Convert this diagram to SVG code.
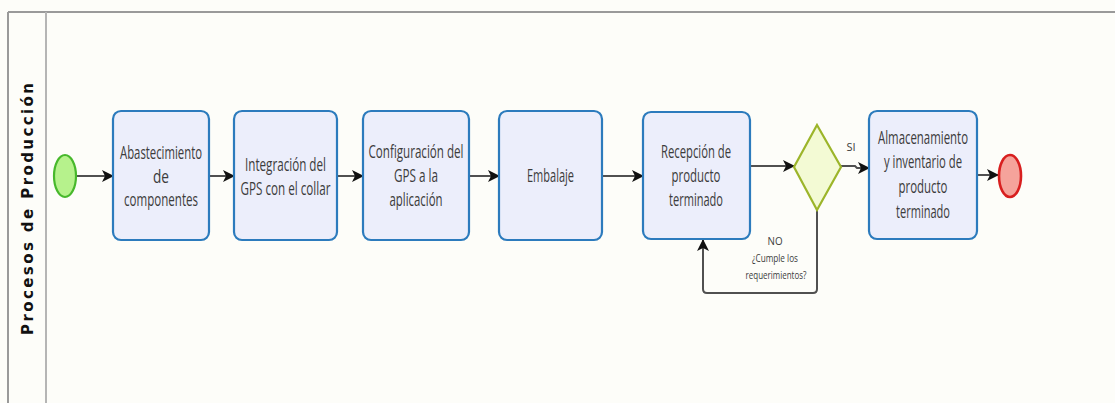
<svg xmlns="http://www.w3.org/2000/svg" width="1115" height="403" viewBox="0 0 1115 403">
<style>
.task{fill:#eceefb;stroke:#2c7bbd;stroke-width:2.2}
.t{font-family:"Open Sans","Noto Sans",sans-serif;font-size:18px;fill:#3c3c3c;text-anchor:middle}
.s{font-family:"Open Sans","Noto Sans",sans-serif;font-size:11px;fill:#3c3c3c;text-anchor:middle}
.flow{fill:none;stroke:#505050;stroke-width:2}
</style>
<defs>
<marker id="arr" viewBox="0 0 12 12" refX="11" refY="6" markerWidth="12" markerHeight="12" markerUnits="userSpaceOnUse" orient="auto">
<path d="M0,0 L12,6 L0,12 L3,6 Z" fill="#111"/>
</marker>
</defs>
<rect x="0" y="0" width="1115" height="403" fill="#fdfdf9"/>
<g id="pool">
<line x1="8" y1="12" x2="1115" y2="12" stroke="#9a9a9a" stroke-width="2"/>
<line x1="8" y1="12" x2="8" y2="403" stroke="#9a9a9a" stroke-width="2"/>
<line x1="46" y1="12" x2="46" y2="403" stroke="#b5b5b5" stroke-width="2"/>
<text transform="translate(33,209) rotate(-90)" font-family="'DejaVu Sans',Verdana,sans-serif" font-weight="bold" font-size="15" fill="#111" text-anchor="middle" textLength="252" lengthAdjust="spacing">Procesos de Producción</text>
</g>
<g id="connectors">
<path class="flow" d="M76,176 L113,176" marker-end="url(#arr)"/>
<path class="flow" d="M209,176 L234,176" marker-end="url(#arr)"/>
<path class="flow" d="M337,176 L363,176" marker-end="url(#arr)"/>
<path class="flow" d="M469,176 L499,176" marker-end="url(#arr)"/>
<path class="flow" d="M602,176 L643,176" marker-end="url(#arr)"/>
<path class="flow" d="M750,166 L794,166" marker-end="url(#arr)"/>
<path class="flow" d="M841,166 L855,166 L857,168 L869,168" marker-end="url(#arr)"/>
<path class="flow" d="M977,175 L998,175" marker-end="url(#arr)"/>
<path class="flow" d="M817,210 L817,289 Q817,293 813,293 L707,293 Q703,293 703,289 L703,240" marker-end="url(#arr)"/>
<text class="s" x="851" y="151">SI</text>
<text class="s" x="775" y="245" textLength="15" lengthAdjust="spacingAndGlyphs">NO</text>
<text class="s" x="775" y="262" textLength="46" lengthAdjust="spacingAndGlyphs">¿Cumple los</text>
<text class="s" x="776" y="279" textLength="61" lengthAdjust="spacingAndGlyphs">requerimientos?</text>
</g>
<g id="start">
<ellipse cx="65" cy="176" rx="11" ry="21" fill="#b6f28c" stroke="#47b82c" stroke-width="2.2"/>
</g>
<g id="task1">
<rect class="task" x="113" y="111" width="96" height="129" rx="8"/>
<text class="t" x="161" y="159" textLength="82" lengthAdjust="spacingAndGlyphs">Abastecimiento</text>
<text class="t" x="161" y="183" textLength="16" lengthAdjust="spacingAndGlyphs">de</text>
<text class="t" x="161" y="206" textLength="74" lengthAdjust="spacingAndGlyphs">componentes</text>
</g>
<g id="task2">
<rect class="task" x="234" y="111" width="103" height="129" rx="8"/>
<text class="t" x="285.5" y="171" textLength="81" lengthAdjust="spacingAndGlyphs">Integración del</text>
<text class="t" x="285.5" y="195" textLength="90" lengthAdjust="spacingAndGlyphs">GPS con el collar</text>
</g>
<g id="task3">
<rect class="task" x="363" y="111" width="106" height="129" rx="8"/>
<text class="t" x="416" y="158" textLength="95" lengthAdjust="spacingAndGlyphs">Configuración del</text>
<text class="t" x="416" y="182" textLength="44" lengthAdjust="spacingAndGlyphs">GPS a la</text>
<text class="t" x="416" y="206" textLength="53" lengthAdjust="spacingAndGlyphs">aplicación</text>
</g>
<g id="task4">
<rect class="task" x="499" y="111" width="103" height="129" rx="8"/>
<text class="t" x="550.5" y="182" textLength="47" lengthAdjust="spacingAndGlyphs">Embalaje</text>
</g>
<g id="task5">
<rect class="task" x="643" y="112" width="107" height="127" rx="8"/>
<text class="t" x="696" y="158" textLength="70" lengthAdjust="spacingAndGlyphs">Recepción de</text>
<text class="t" x="696" y="182" textLength="49" lengthAdjust="spacingAndGlyphs">producto</text>
<text class="t" x="696" y="206" textLength="54" lengthAdjust="spacingAndGlyphs">terminado</text>
</g>
<g id="gateway">
<path d="M817,125 L841,167 L817,210 L794,167 Z" fill="#f3fad4" stroke="#9cb52a" stroke-width="2.2"/>
</g>
<g id="task6">
<rect class="task" x="869" y="111" width="108" height="128" rx="8"/>
<text class="t" x="923" y="144" textLength="90" lengthAdjust="spacingAndGlyphs">Almacenamiento</text>
<text class="t" x="923" y="168" textLength="78" lengthAdjust="spacingAndGlyphs">y inventario de</text>
<text class="t" x="923" y="193" textLength="49" lengthAdjust="spacingAndGlyphs">producto</text>
<text class="t" x="923" y="218" textLength="54" lengthAdjust="spacingAndGlyphs">terminado</text>
</g>
<g id="end">
<ellipse cx="1010" cy="176" rx="11" ry="21" fill="#f5a39b" stroke="#d81f1f" stroke-width="2.6"/>
</g>
</svg>
